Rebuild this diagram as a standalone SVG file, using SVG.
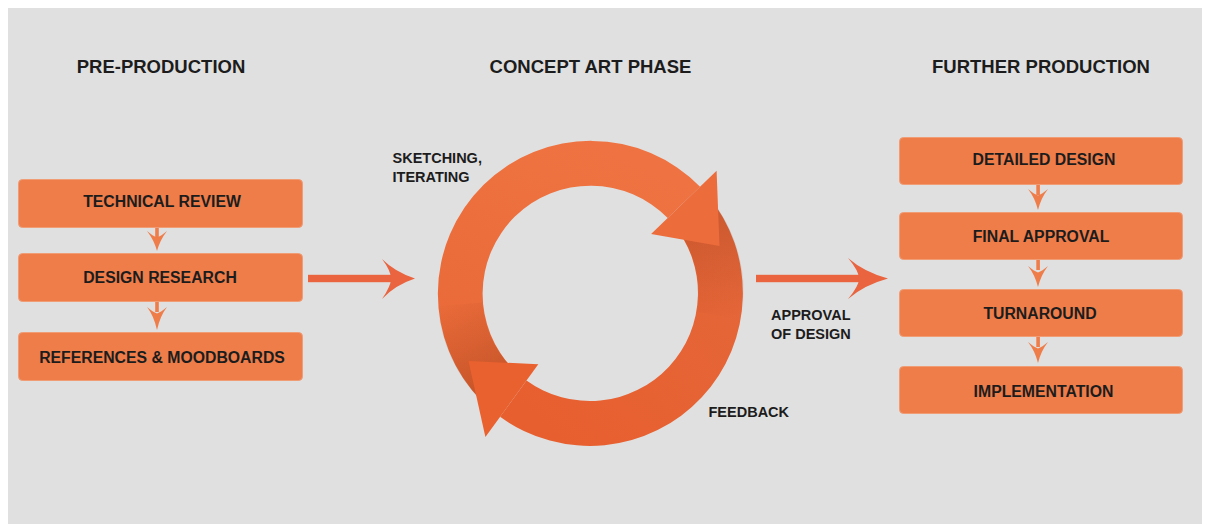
<svg xmlns="http://www.w3.org/2000/svg" width="1205" height="524" viewBox="0 0 1205 524">
  <defs>
    <style>
      .bg { fill: #E0E0E0; }
      .box { fill: #EE7D4A; stroke: #F09C74; stroke-width: 1; }
      .t { font-family: "Liberation Sans", Arial, sans-serif; font-weight: bold; fill: #1C1C1C; }
      .h { font-size: 18.5px; text-anchor: middle; }
      .bt { font-size: 15.8px; text-anchor: middle; }
      .lb { font-size: 14.5px; }
      .sa { fill: #EE7D4A; }
      .ba { fill: #E9643F; }
    </style>
    <linearGradient id="gA" gradientUnits="userSpaceOnUse" x1="590" y1="140" x2="470" y2="400">
      <stop offset="0" stop-color="#EF7342"/>
      <stop offset="1" stop-color="#E96837"/>
    </linearGradient>
    <linearGradient id="gB" gradientUnits="userSpaceOnUse" x1="740" y1="250" x2="560" y2="440">
      <stop offset="0" stop-color="#E4673A"/>
      <stop offset="1" stop-color="#E85F2F"/>
    </linearGradient>
    <linearGradient id="shL" gradientUnits="userSpaceOnUse" x1="490" y1="385" x2="445" y2="300">
      <stop offset="0" stop-color="#7A2A08" stop-opacity="0.3"/>
      <stop offset="1" stop-color="#7A2A08" stop-opacity="0"/>
    </linearGradient>
    <linearGradient id="shR" gradientUnits="userSpaceOnUse" x1="712" y1="225" x2="742" y2="315">
      <stop offset="0" stop-color="#7A2A08" stop-opacity="0.2"/>
      <stop offset="1" stop-color="#7A2A08" stop-opacity="0"/>
    </linearGradient>
  </defs>

  <rect x="0" y="0" width="1205" height="524" fill="#FFFFFF"/>
  <rect class="bg" x="8" y="8" width="1194" height="516"/>

  <!-- headings -->
  <text class="t h" x="161" y="72.5">PRE-PRODUCTION</text>
  <text class="t h" x="590.5" y="72.5">CONCEPT ART PHASE</text>
  <text class="t h" x="1041" y="72.5">FURTHER PRODUCTION</text>

  <!-- pre-production nodes -->
  <g id="technical-review">
    <rect class="box" x="18.5" y="179.5" width="284" height="48" rx="4"/>
    <text class="t bt" x="162" y="206.7">TECHNICAL REVIEW</text>
  </g>
  <g id="design-research">
    <rect class="box" x="18.5" y="253.5" width="284" height="48" rx="4"/>
    <text class="t bt" x="160" y="283.3">DESIGN RESEARCH</text>
  </g>
  <g id="references-moodboards">
    <rect class="box" x="18.5" y="332.5" width="284" height="48" rx="4"/>
    <text class="t bt" x="162" y="362.7">REFERENCES &amp; MOODBOARDS</text>
  </g>

  <!-- further production nodes -->
  <g id="detailed-design">
    <rect class="box" x="899.5" y="137.5" width="283" height="47" rx="4"/>
    <text class="t bt" x="1044" y="165">DETAILED DESIGN</text>
  </g>
  <g id="final-approval">
    <rect class="box" x="899.5" y="212.5" width="283" height="47" rx="4"/>
    <text class="t bt" x="1041" y="242.3">FINAL APPROVAL</text>
  </g>
  <g id="turnaround">
    <rect class="box" x="899.5" y="289.5" width="283" height="47" rx="4"/>
    <text class="t bt" x="1040" y="319">TURNAROUND</text>
  </g>
  <g id="implementation">
    <rect class="box" x="899.5" y="366.5" width="283" height="47" rx="4"/>
    <text class="t bt" x="1043.5" y="396.7">IMPLEMENTATION</text>
  </g>

  <!-- concept art cycle -->
  <g id="concept-cycle">
    <path fill="url(#gB)" d="M707.2,194.7 A153,153 0 0 1 500.1,416.8 L526.5,380.4 A108,108 0 0 0 672.7,223.6 Z"/>
    <path fill="url(#gA)" d="M481.8,401.2 A153,153 0 1 1 700.1,186.7 L667.7,218.0 A108,108 0 1 0 513.6,369.4 Z"/>
    <path fill="url(#shL)" d="M481.8,401.2 A153,153 0 0 1 437.6,306.3 L482.4,302.4 A108,108 0 0 0 513.6,369.4 Z"/>
    <path fill="url(#shR)" d="M707.2,194.7 A153,153 0 0 1 741.8,320.0 L697.1,311.8 A108,108 0 0 0 672.7,223.6 Z"/>
    <polygon fill="#EC6C3C" points="716.6,170.7 719.5,246 651.1,234"/>
    <polygon fill="#E9612F" points="485.4,437 468.5,361 538.3,364.2"/>
  </g>

  <!-- labels -->
  <text class="t lb" x="392.5" y="163.3">SKETCHING,</text>
  <text class="t lb" x="392.5" y="181.7">ITERATING</text>
  <text class="t lb" x="771" y="320">APPROVAL</text>
  <text class="t lb" x="771" y="339">OF DESIGN</text>
  <text class="t lb" x="708.5" y="417.3">FEEDBACK</text>

  <!-- connectors -->
  <g id="connectors">
    <rect class="sa" x="155.2" y="228" width="3.6" height="10"/>
    <path class="sa" d="M147,231 Q153,236 157,237.5 Q161,236 167,231 Q160,240 157,251 Q154,240 147,231 Z"/>
    <rect class="sa" x="155.2" y="302" width="3.6" height="10"/>
    <path class="sa" d="M147,307 Q153,312 157,313.5 Q161,312 167,307 Q160,316 157,330 Q154,316 147,307 Z"/>
    <rect class="sa" x="1036.3" y="185" width="3.6" height="10"/>
    <path class="sa" d="M1028,189 Q1034,194 1038,195.5 Q1042,194 1048,189 Q1041,198 1038,210 Q1035,198 1028,189 Z"/>
    <rect class="sa" x="1036.3" y="260" width="3.6" height="10"/>
    <path class="sa" d="M1028,266 Q1034,271 1038,272.5 Q1042,271 1048,266 Q1041,275 1038,287 Q1035,275 1028,266 Z"/>
    <rect class="sa" x="1036.3" y="337" width="3.6" height="10"/>
    <path class="sa" d="M1028,342 Q1034,347 1038,348.5 Q1042,347 1048,342 Q1041,351 1038,363 Q1035,351 1028,342 Z"/>
    <rect class="ba" x="308" y="274.8" width="84" height="7.4"/>
    <path class="ba" d="M415,278.5 Q395,272 382,259 Q391,271 391,278.5 Q391,286 382,299 Q395,285 415,278.5 Z"/>
    <rect class="ba" x="756" y="274.8" width="104" height="7.4"/>
    <path class="ba" d="M888,278.5 Q864,272 848,258 Q859,271 859,278.5 Q859,286 848,299 Q864,285 888,278.5 Z"/>
  </g>
</svg>
